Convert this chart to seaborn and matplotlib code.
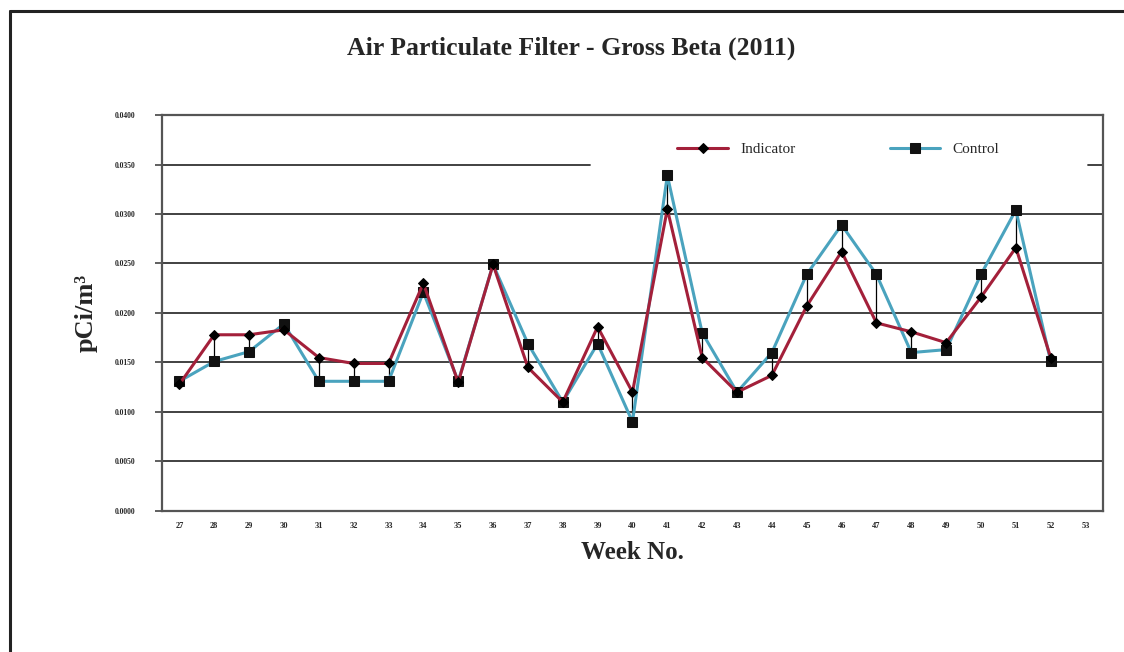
import numpy as np
import pandas as pd
import matplotlib
matplotlib.use("Agg")
import matplotlib.pyplot as plt
import seaborn as sns
from matplotlib.lines import Line2D

# weekly gross beta values (pCi/m3)
weeks = list(range(27, 53))
indicator = [0.0128, 0.0178, 0.0178, 0.0183, 0.0155, 0.0149, 0.0149, 0.0230,
             0.0130, 0.0249, 0.0145, 0.0110, 0.0186, 0.0120, 0.0305, 0.0155,
             0.0120, 0.0137, 0.0207, 0.0262, 0.0190, 0.0181, 0.0170, 0.0216,
             0.0266, 0.0155]
control = [0.0131, 0.0151, 0.0161, 0.0189, 0.0131, 0.0131, 0.0131, 0.0221,
           0.0131, 0.0249, 0.0169, 0.0110, 0.0169, 0.0090, 0.0339, 0.0180,
           0.0120, 0.0160, 0.0239, 0.0289, 0.0239, 0.0160, 0.0163, 0.0239,
           0.0304, 0.0151]
tick_weeks = list(range(27, 54))
y_ticks = [0.0, 0.005, 0.010, 0.015, 0.020, 0.025, 0.030, 0.035, 0.040]

df = pd.DataFrame({"week": weeks, "Indicator": indicator, "Control": control})

sns.set_style("white")
plt.rcParams["font.family"] = ["Liberation Serif", "DejaVu Serif"]

fig = plt.figure(figsize=(11.24, 6.52), dpi=100)
ax = fig.add_axes([0.1441, 0.2163, 0.8372, 0.6073])

# horizontal gridlines (the top one is hidden behind the legend)
for v in y_ticks[1:-2]:
    ax.axhline(v, color="#333333", lw=1.3, zorder=1)
ax.axhline(y_ticks[-2], xmax=0.455, color="#333333", lw=1.3, zorder=1)
ax.axhline(y_ticks[-2], xmin=0.984, color="#333333", lw=1.3, zorder=1)

# high-low lines between the two series
ax.vlines(df["week"], df[["Indicator", "Control"]].min(axis=1),
          df[["Indicator", "Control"]].max(axis=1), color="black", lw=0.9, zorder=2)

sns.lineplot(data=df, x="week", y="Indicator", ax=ax, color="#A3203A", lw=2.2,
             marker="D", markersize=5.5, markerfacecolor="black",
             markeredgecolor="black", label="Indicator", zorder=4)
sns.lineplot(data=df, x="week", y="Control", ax=ax, color="#4AA3BE", lw=2.2,
             marker="s", markersize=6.5, markerfacecolor="#111111",
             markeredgecolor="#111111", label="Control", zorder=3)

ax.set_xlim(26.5, 53.5)
ax.set_ylim(0, 0.04)
ax.set_xticks(tick_weeks)
ax.set_xticklabels([str(w) for w in tick_weeks], fontsize=6, fontweight="bold")
ax.set_yticks(y_ticks)
ax.set_yticklabels([f"{v:.4f}" for v in y_ticks], fontsize=5.5, fontweight="bold")
ax.tick_params(axis="x", length=0, pad=8)
ax.tick_params(axis="y", length=5, width=1.2, color="#444444", direction="out", pad=14)
ax.yaxis.set_ticks_position("left")

for s in ax.spines.values():
    s.set_color("#555555")
    s.set_linewidth(1.6)

ax.set_xlabel("Week No.", fontsize=18, fontweight="bold", labelpad=8)
ax.set_ylabel("pCi/m\u00b3", fontsize=19, fontweight="bold", labelpad=12)

leg = ax.legend(loc="upper left", bbox_to_anchor=(0.525, 0.985), ncol=2,
                frameon=False, fontsize=11, columnspacing=6.2, handlelength=3.3,
                borderpad=0.9)
leg.set_zorder(5)

fig.text(0.508, 0.926, "Air Particulate Filter - Gross Beta (2011)",
         ha="center", va="center", fontsize=18.5, fontweight="bold")

# outer frame (top and left edges)
fig.add_artist(Line2D([0.009, 1.0], [0.983, 0.983], color="#222222", lw=2.2))
fig.add_artist(Line2D([0.009, 0.009], [0.0, 0.983], color="#222222", lw=2.2))

fig.savefig("out.png", dpi=100)
